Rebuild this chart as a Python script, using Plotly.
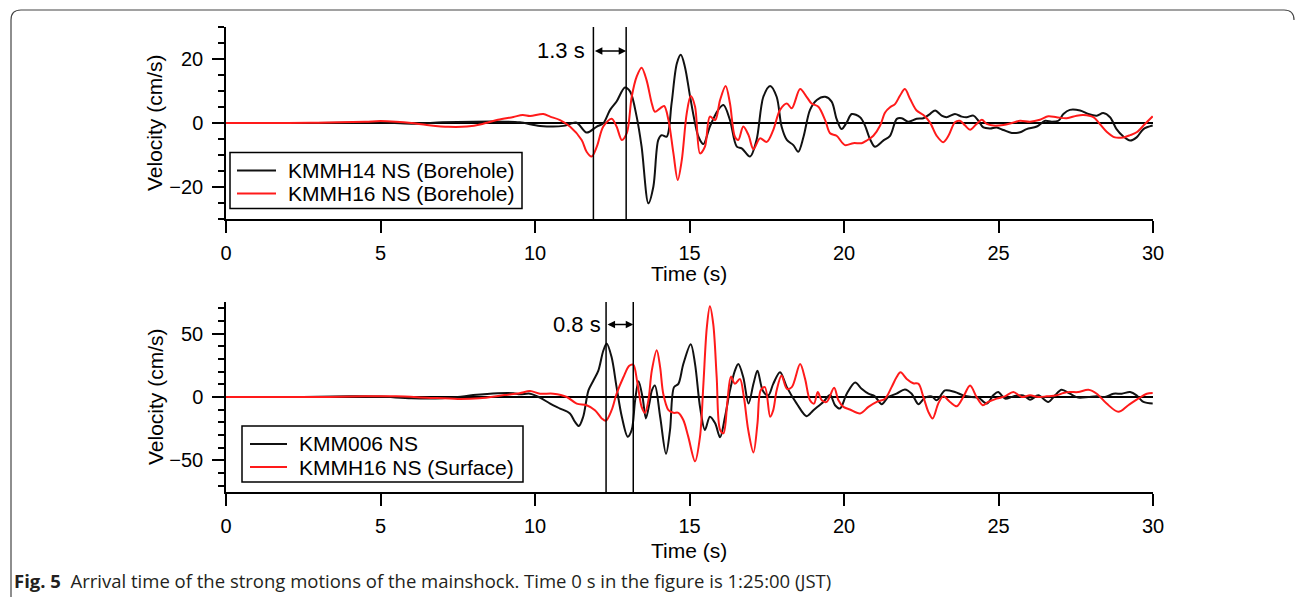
import plotly.graph_objects as go

# ---------------- data (time [s], velocity [cm/s]) ----------------
top_kmmh14_borehole = [(0,0),(2,0),(4,0.1),(5,0.2),(6,-0.2),(7,0.2),(8,0.4),(9,0.4),(9.51,0.2),(10.16,-0.9),(10.92,-0.9),(11.13,-0.3),(11.35,0.1),(11.67,-3.0),(12.0,-1.1),(12.21,-0.1),(12.43,4.1),(12.64,6.7),(12.91,11.1),(13.08,9.8),(13.29,2.0),(13.45,-7.4),(13.67,-25.1),(13.83,-19.9),(13.99,-5.3),(14.1,-3.8),(14.26,-4.3),(14.42,6.1),(14.59,18.6),(14.72,21.3),(14.85,17.6),(15.02,8.2),(15.18,-0.1),(15.29,-4.3),(15.45,-6.6),(15.66,-1.1),(15.93,4.1),(16.1,5.6),(16.31,0.9),(16.53,-7.4),(16.69,-7.9),(16.96,-10.5),(17.17,-5.3),(17.39,8.2),(17.61,11.6),(17.82,8.2),(17.98,-1.1),(18.15,-5.3),(18.36,-6.9),(18.52,-9.0),(18.69,-4.3),(18.9,4.1),(19.12,7.2),(19.39,8.2),(19.6,6.7),(19.76,1.3),(19.92,-1.9),(20.09,0.2),(20.25,2.8),(20.52,1.8),(20.68,-0.8),(20.84,-5.0),(21.0,-7.4),(21.27,-5.5),(21.49,-4.0),(21.71,1.3),(21.87,1.5),(22.08,0.4),(22.35,1.3),(22.57,1.5),(22.78,2.8),(22.95,3.9),(23.16,2.3),(23.32,1.8),(23.59,2.8),(23.81,2.0),(23.97,1.8),(24.19,2.3),(24.35,0.7),(24.51,-1.4),(24.73,-1.7),(24.94,-1.4),(25.16,-2.2),(25.43,-3.1),(25.7,-2.9),(25.91,-1.9),(26.24,-1.1),(26.51,0.7),(26.72,0.4),(26.94,0.7),(27.1,2.8),(27.31,4.1),(27.64,3.9),(27.91,2.8),(28.18,2.3),(28.39,3.1),(28.61,1.8),(28.82,-1.9),(29.04,-4.2),(29.26,-5.5),(29.47,-4.5),(29.69,-1.9),(29.99,-0.8)]

top_kmmh16_borehole = [(0,0),(2,0),(3,0.1),(4.5,0.4),(5,0.6),(5.5,0.4),(6,0),(6.5,-0.6),(7.2,-1.2),(7.8,-1.1),(8.3,-0.3),(8.8,1.0),(9.3,1.9),(9.6,2.5),(9.84,2.2),(10.27,2.8),(10.49,2.0),(10.81,0.9),(11.13,-1.1),(11.51,-5.3),(11.67,-9.0),(11.83,-10.5),(12.0,-7.4),(12.21,-1.1),(12.48,1.3),(12.64,-1.1),(12.81,-5.3),(12.97,-3.2),(13.13,8.2),(13.29,14.5),(13.45,17.3),(13.61,13.4),(13.78,6.1),(13.88,3.5),(14.05,4.6),(14.18,5.3),(14.32,0.9),(14.48,-9.5),(14.62,-17.8),(14.75,-11.6),(14.91,3.0),(15.04,8.4),(15.18,5.1),(15.34,-9.5),(15.5,-7.4),(15.66,2.0),(15.83,0.9),(15.99,7.2),(16.17,11.6),(16.31,6.1),(16.47,-4.3),(16.58,-5.3),(16.74,-1.1),(16.91,-3.8),(17.07,-8.2),(17.28,-4.8),(17.5,-5.9),(17.71,-2.2),(17.93,4.1),(18.15,6.1),(18.31,4.6),(18.58,10.6),(18.79,8.2),(18.95,6.1),(19.17,5.1),(19.39,0.9),(19.55,-3.2),(19.76,-4.0),(20.03,-6.9),(20.3,-6.3),(20.57,-6.3),(20.73,-5.5),(20.95,-4.0),(21.17,-0.8),(21.33,3.3),(21.49,4.9),(21.65,5.9),(21.81,8.5),(21.97,10.6),(22.14,7.5),(22.35,3.9),(22.57,2.5),(22.78,0.2),(23.0,-4.0),(23.21,-6.0),(23.38,-4.0),(23.59,0.2),(23.75,0.7),(23.92,-0.8),(24.08,-2.1),(24.29,-0.3),(24.46,1.0),(24.62,-0.3),(24.83,-0.8),(25.16,-0.6),(25.43,0),(25.7,0.7),(26.02,0.4),(26.34,1.0),(26.61,2.1),(26.88,1.8),(27.21,1.5),(27.53,2.3),(27.75,2.5),(28.07,1.8),(28.28,-0.3),(28.5,-2.7),(28.77,-4.5),(29.04,-4.5),(29.26,-3.8),(29.47,-2.9),(29.74,-0.3),(29.99,2.1)]

bot_kmm006 = [(0,0),(2.5,0),(4,0.5),(5,0.3),(6,-1.0),(7,-1.0),(7.5,0),(8,1.5),(8.8,3.0),(9.3,3.0),(9.51,2.1),(9.84,2.6),(10.16,-0.5),(10.49,-5.2),(10.81,-9.1),(11.13,-13.0),(11.29,-19.5),(11.42,-22.9),(11.56,-15.6),(11.73,5.2),(11.89,13.0),(12.05,20.8),(12.21,36.5),(12.32,42.2),(12.48,31.3),(12.64,7.8),(12.81,-15.6),(13.0,-31.3),(13.13,-26.0),(13.24,-2.6),(13.35,12.5),(13.48,0),(13.59,-16.9),(13.72,-2.6),(13.78,5.0),(13.88,9.0),(14.05,-15.6),(14.24,-44.8),(14.37,-26.0),(14.5,7.8),(14.64,10.4),(14.8,26.0),(15.04,41.7),(15.18,26.0),(15.34,-7.8),(15.5,-26.0),(15.66,-15.6),(15.83,-20.8),(15.99,-31.8),(16.15,-15.6),(16.31,5.2),(16.47,20.8),(16.58,26.0),(16.74,15.6),(16.91,-5.2),(17.07,10.4),(17.2,20.8),(17.37,5.2),(17.55,1.3),(17.71,10.4),(17.93,19.5),(18.15,7.8),(18.47,-5.2),(18.79,-15.1),(19.01,-10.4),(19.33,-3.9),(19.55,1.5),(19.71,-6.5),(19.87,-9.1),(20.09,2.6),(20.36,11.5),(20.57,6.5),(20.79,2.6),(21.0,0.5),(21.22,-5.7),(21.43,0),(21.7,2.6),(21.97,6.0),(22.19,2.6),(22.41,-5.7),(22.62,-0.5),(22.84,0.5),(23.0,-2.6),(23.27,5.2),(23.59,3.9),(23.86,1.3),(24.13,0),(24.35,-0.5),(24.62,-5.2),(24.83,1.3),(24.99,3.9),(25.21,-1.3),(25.48,0.5),(25.8,1.3),(26.02,-2.1),(26.29,1.3),(26.61,-3.9),(26.83,1.3),(27.04,5.7),(27.31,2.6),(27.58,-0.5),(27.91,0),(28.18,0.5),(28.45,0),(28.72,2.6),(28.99,2.6),(29.26,3.9),(29.47,1.3),(29.69,-3.9),(29.99,-5.2)]

bot_kmmh16_surface = [(0,0),(3,0),(4.5,0.5),(5.5,0.5),(6.5,-0.5),(7.5,-1.5),(8.2,-1.0),(9,1.5),(9.5,3.0),(9.84,4.7),(10.16,2.6),(10.59,2.6),(11.03,0),(11.35,-5.2),(11.67,-6.5),(11.94,-10.4),(12.16,-16.9),(12.29,-18.8),(12.48,-10.4),(12.64,2.6),(12.86,15.6),(13.05,24.7),(13.18,25.5),(13.31,11.7),(13.45,-7.8),(13.56,-12.5),(13.67,-2.6),(13.78,20.8),(13.94,37.0),(14.05,23.4),(14.15,2.6),(14.32,-10.4),(14.48,-12.5),(14.64,-12.5),(14.8,-18.2),(14.96,-31.3),(15.18,-50.8),(15.34,-31.3),(15.45,10.4),(15.56,54.7),(15.66,71.6),(15.77,57.3),(15.88,15.6),(15.99,-26.0),(16.1,-28.6),(16.23,-2.6),(16.34,16.1),(16.47,10.4),(16.63,14.3),(16.76,0),(16.9,-26.0),(17.07,-43.8),(17.2,-20.8),(17.3,5.2),(17.44,7.8),(17.61,-15.6),(17.71,-10.4),(17.82,5.2),(17.98,16.9),(18.15,6.5),(18.31,7.8),(18.58,26.0),(18.74,14.3),(18.9,-2.6),(19.03,-5.2),(19.15,3.9),(19.28,-2.6),(19.44,-3.9),(19.68,7.3),(19.82,-2.6),(19.98,-7.8),(20.19,-9.9),(20.52,-13.0),(20.79,-7.8),(21.06,-3.9),(21.33,-1.3),(21.54,7.8),(21.7,15.6),(21.83,19.5),(22.03,14.3),(22.24,10.9),(22.41,10.4),(22.57,0),(22.73,-11.7),(22.87,-17.0),(23.05,-5.2),(23.21,0.5),(23.43,-3.9),(23.65,-7.3),(23.86,0),(24.08,9.1),(24.29,0),(24.49,-6.5),(24.67,-3.9),(24.94,-1.3),(25.21,0.5),(25.48,3.9),(25.75,0),(26.02,1.3),(26.29,0),(26.56,0.5),(26.88,1.3),(27.1,3.1),(27.31,3.9),(27.58,3.9),(27.91,5.7),(28.18,2.6),(28.5,-5.2),(28.88,-11.7),(29.2,-6.5),(29.52,-1.3),(29.8,2.6),(29.99,3.1)]

top_names = ["KMMH14 NS (Borehole)", "KMMH16 NS (Borehole)"]
bot_names = ["KMM006 NS", "KMMH16 NS (Surface)"]

top_arrival = [11.89, 12.95]   # s
bot_arrival = [12.30, 13.18]   # s
top_label = "1.3 s"
bot_label = "0.8 s"

x_ticks = [0, 5, 10, 15, 20, 25, 30]
caption_bold = "Fig. 5"
caption_text = "Arrival time of the strong motions of the mainshock. Time 0 s in the figure is 1:25:00 (JST)"

# ---------------- figure ----------------
W, H = 1295, 598
FONT = "Liberation Sans, Arial, sans-serif"
BLACK = "#111111"
RED = "#ff1a1a"


def px(x):
    return x / W


def py(y):
    return 1 - y / H


fig = go.Figure()


def add(series, name, color, xa, ya):
    fig.add_trace(go.Scatter(
        x=[p[0] for p in series], y=[p[1] for p in series],
        mode="lines", name=name, showlegend=False,
        line=dict(color=color, width=2, shape="spline", smoothing=0.9),
        xaxis=xa, yaxis=ya))


add(top_kmmh14_borehole, top_names[0], BLACK, "x", "y")
add(top_kmmh16_borehole, top_names[1], RED, "x", "y")
add(bot_kmm006, bot_names[0], BLACK, "x2", "y2")
add(bot_kmmh16_surface, bot_names[1], RED, "x2", "y2")

xdom = [px(226), px(1153)]
tickfont = dict(family=FONT, size=20, color="black")

xcommon = dict(range=[0, 30], tickvals=x_ticks, showline=True, linecolor="black", linewidth=1.5,
               ticks="outside", ticklen=12, tickwidth=1.5, tickcolor="black", showgrid=False,
               zeroline=False, tickfont=tickfont, domain=xdom, ticklabelstandoff=3,
               automargin=False)


def ycommon(dom, rng, vals, minor_dtick, anchor):
    return dict(domain=dom, range=rng, tickvals=vals,
                showline=True, linecolor="black", linewidth=1.5, ticks="outside", ticklen=12,
                tickwidth=1.5, tickcolor="black", showgrid=False, zeroline=True,
                zerolinecolor="black", zerolinewidth=1.5, tickfont=tickfont, anchor=anchor,
                ticklabelstandoff=5, automargin=False,
                minor=dict(dtick=minor_dtick, tick0=0, ticks="outside", ticklen=6, tickwidth=1.5,
                           tickcolor="black", showgrid=False))


fig.update_layout(
    width=W, height=H, autosize=False, margin=dict(l=0, r=0, t=0, b=0, pad=0),
    paper_bgcolor="white", plot_bgcolor="rgba(0,0,0,0)",
    font=dict(family=FONT, color="black"),
    xaxis=dict(**xcommon, anchor="y"),
    xaxis2=dict(**xcommon, anchor="y2"),
    yaxis=ycommon([py(219), py(27)], [-30, 30], [-20, 0, 20], 5, "x"),
    yaxis2=ycommon([py(492), py(302)], [-75, 75], [-50, 0, 50], 10, "x2"),
    showlegend=False,
)


# legends (box, sample line, label)
def legend_box(x0, y0, x1, y1, rows, names, colors, line_x0, line_x1, text_x):
    fig.add_shape(type="rect", xref="paper", yref="paper", x0=px(x0), x1=px(x1),
                  y0=py(y1), y1=py(y0), line=dict(color="black", width=1.5),
                  fillcolor="white", layer="above")
    for yr, nm, col in zip(rows, names, colors):
        fig.add_shape(type="line", xref="paper", yref="paper", x0=px(line_x0), x1=px(line_x1),
                      y0=py(yr), y1=py(yr), line=dict(color=col, width=2), layer="above")
        fig.add_annotation(xref="paper", yref="paper", x=px(text_x), y=py(yr), text=nm,
                           showarrow=False, xanchor="left", yanchor="middle",
                           font=dict(family=FONT, size=21, color="black"))


legend_box(230, 152.5, 522, 208.5, [170.5, 193.5], top_names, [BLACK, RED], 237, 276, 286)
legend_box(242, 426, 523, 482, [444, 467], bot_names, [BLACK, RED], 250, 287, 297)

# arrival-time lines
for t in top_arrival:
    fig.add_shape(type="line", xref="x", yref="y", x0=t, x1=t, y0=-30, y1=30,
                  line=dict(color="black", width=1.5), layer="above")
for t in bot_arrival:
    fig.add_shape(type="line", xref="x2", yref="y2", x0=t, x1=t, y0=-75, y1=75,
                  line=dict(color="black", width=1.5), layer="above")

# double arrows + labels
fig.add_annotation(xref="x", yref="y", axref="x", ayref="y", x=top_arrival[1], y=22.5,
                   ax=top_arrival[0], ay=22.5, text="", showarrow=True, arrowside="end+start",
                   arrowhead=2, arrowsize=1, arrowwidth=1.5, arrowcolor="black")
fig.add_annotation(xref="x", yref="y", x=top_arrival[0] - 0.2, y=22.5, text=top_label,
                   showarrow=False, xanchor="right", yanchor="middle",
                   font=dict(family=FONT, size=22, color="black"))
fig.add_annotation(xref="x2", yref="y2", axref="x2", ayref="y2", x=bot_arrival[1], y=57.3,
                   ax=bot_arrival[0], ay=57.3, text="", showarrow=True, arrowside="end+start",
                   arrowhead=2, arrowsize=1, arrowwidth=1.5, arrowcolor="black")
fig.add_annotation(xref="x2", yref="y2", x=bot_arrival[0] - 0.1, y=57.3, text=bot_label,
                   showarrow=False, xanchor="right", yanchor="middle",
                   font=dict(family=FONT, size=22, color="black"))

# axis titles
for yc in (123, 397):
    fig.add_annotation(xref="paper", yref="paper", x=px(155), y=py(yc), text="Velocity (cm/s)",
                       textangle=-90, showarrow=False, xanchor="center", yanchor="middle",
                       font=dict(family=FONT, size=21, color="black"))
for yc in (273, 550):
    fig.add_annotation(xref="paper", yref="paper", x=px(689), y=py(yc), text="Time (s)",
                       showarrow=False, xanchor="center", yanchor="middle",
                       font=dict(family=FONT, size=21, color="black"))

# caption
fig.add_annotation(xref="paper", yref="paper", x=px(12), y=py(580),
                   text=f"<b>{caption_bold}</b>  {caption_text}", showarrow=False,
                   xanchor="left", yanchor="middle",
                   font=dict(family="Open Sans, sans-serif", size=18.5, color="#231f20"))

# rounded frame (decorative)
r = 10
L, T, R, B = 11, 10, 1294, 597
path = (f"M {px(L)},{py(B)} L {px(L)},{py(T + r)} Q {px(L)},{py(T)} {px(L + r)},{py(T)} "
        f"L {px(R - r)},{py(T)} Q {px(R)},{py(T)} {px(R)},{py(T + r)}")
fig.add_shape(type="path", xref="paper", yref="paper", path=path,
              line=dict(color="#444444", width=1.2))

fig.write_html("out.html", config={"responsive": False},
               post_script="document.body.style.margin='0';document.body.style.overflow='hidden';")
